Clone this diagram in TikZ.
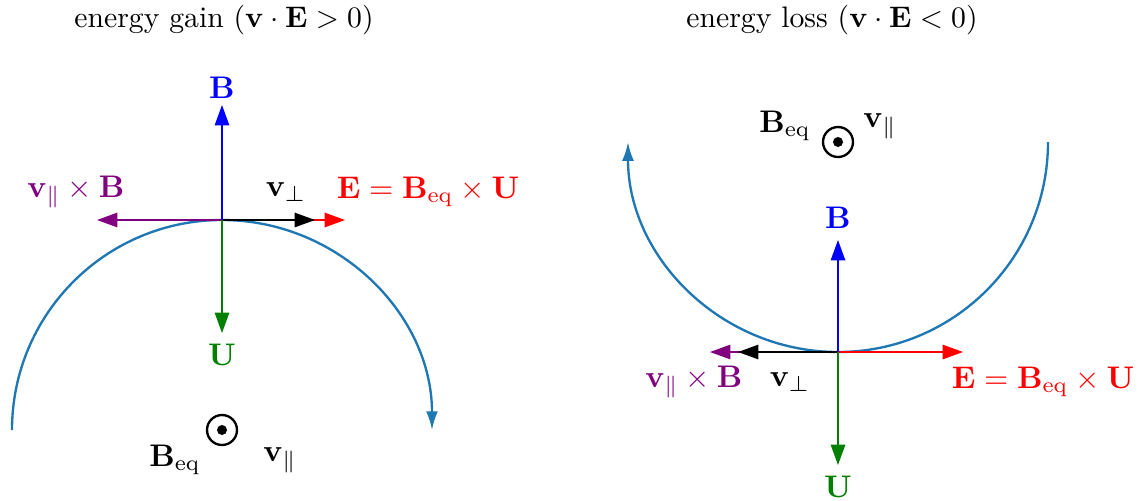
\documentclass[tikz,border=0pt]{standalone}
\usepackage{amsmath}
\usetikzlibrary{arrows.meta}
\definecolor{orbitblue}{HTML}{1F77B4}
\definecolor{ugreen}{rgb}{0,0.5,0}
\definecolor{cpurple}{rgb}{0.5,0,0.5}
\tikzset{
  vec/.style={line width=0.5pt,-{Triangle[length=6.5pt,width=4.6pt]}},
  orbit/.style={orbitblue,line width=0.75pt,-{Latex[length=6pt,width=3.8pt]}},
  lbl/.style={inner sep=0pt},
  ttl/.style={inner sep=0pt,scale=0.95}
}
\begin{document}
\begin{tikzpicture}[x=0.32pt,y=0.32pt]
\useasboundingbox (0,0) rectangle (1143,500);
% energy gain
\node[ttl] (titleL) at (224,480) {energy gain ($\mathbf{v}\cdot\mathbf{E}>0$)};
\coordinate (oL) at (222,280);
\coordinate (cL) at (222,70);
\draw[orbit] (12,70) arc[start angle=180,end angle=0,radius=210];
\coordinate (BL) at (222,395);
\coordinate (XL) at (97,280);
\coordinate (PL) at (315,280);
\coordinate (EL) at (345,280);
\coordinate (UL) at (222,167);
\draw[vec,red] (oL) -- (EL);
\draw[vec,cpurple] (oL) -- (XL);
\draw[vec,black] (oL) -- (PL);
\draw[vec,blue] (oL) -- (BL);
\draw[vec,ugreen] (oL) -- (UL);
\node[lbl,blue] (lBL) at (222,412) {$\mathbf{B}$};
\node[lbl,cpurple] (lXL) at (76,308) {$\mathbf{v}_\parallel\times\mathbf{B}$};
\node[lbl] (lPL) at (286,308) {$\mathbf{v}_\perp$};
\node[lbl,red] (lEL) at (428,308) {$\mathbf{E}=\mathbf{B}_{\mathrm{eq}}\times\mathbf{U}$};
\node[lbl,ugreen] (lUL) at (222,145) {$\mathbf{U}$};
\draw[line width=0.75pt] (cL) circle (15);
\fill (cL) circle (5);
\node[lbl] (lqL) at (175,40) {$\mathbf{B}_{\mathrm{eq}}$};
\node[lbl] (lvL) at (280,40) {$\mathbf{v}_\parallel$};
% energy loss
\node[ttl] (titleR) at (832,480) {energy loss ($\mathbf{v}\cdot\mathbf{E}<0$)};
\coordinate (oR) at (838,148);
\coordinate (cR) at (838,358);
\draw[orbit] (1048,358) arc[start angle=0,end angle=-180,radius=210];
\coordinate (BR) at (838,260);
\coordinate (XR) at (710,148);
\coordinate (PR) at (738,148);
\coordinate (ER) at (963,148);
\coordinate (UR) at (838,35);
\draw[vec,red] (oR) -- (ER);
\draw[vec,cpurple] (oR) -- (XR);
\draw[vec,black] (oR) -- (PR);
\draw[vec,blue] (oR) -- (BR);
\draw[vec,ugreen] (oR) -- (UR);
\node[lbl,blue] (lBR) at (838,282) {$\mathbf{B}$};
\node[lbl,cpurple] (lXR) at (694,118) {$\mathbf{v}_\parallel\times\mathbf{B}$};
\node[lbl] (lPR) at (790,118) {$\mathbf{v}_\perp$};
\node[lbl,red] (lER) at (1043,118) {$\mathbf{E}=\mathbf{B}_{\mathrm{eq}}\times\mathbf{U}$};
\node[lbl,ugreen] (lUR) at (838,13) {$\mathbf{U}$};
\draw[line width=0.75pt] (cR) circle (15);
\fill (cR) circle (5);
\node[lbl] (lqR) at (785,374) {$\mathbf{B}_{\mathrm{eq}}$};
\node[lbl] (lvR) at (880,374) {$\mathbf{v}_\parallel$};
\end{tikzpicture}
\end{document}
